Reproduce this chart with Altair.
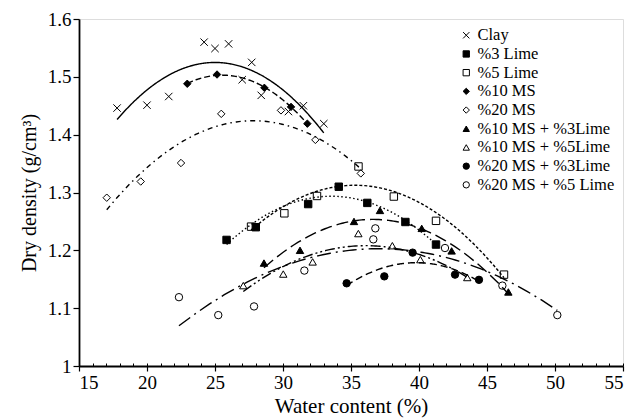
import altair as alt
import pandas as pd

series = ["Clay", "%3 Lime", "%5 Lime", "%10 MS", "%20 MS",
          "%10 MS + %3Lime", "%10 MS + %5Lime", "%20 MS + %3Lime", "%20 MS + %5 Lime"]

clay_x = [17.8, 20.0, 21.6, 24.2, 25.0, 26.0, 27.0, 27.7, 28.4, 30.4, 31.5, 33.0]
clay_y = [1.446, 1.451, 1.466, 1.560, 1.549, 1.557, 1.495, 1.525, 1.468, 1.440, 1.450, 1.419]

lime3_x = [25.85, 28.0, 31.85, 34.1, 36.2, 39.0, 41.25]
lime3_y = [1.218, 1.240, 1.280, 1.310, 1.282, 1.249, 1.210]

lime5_x = [27.65, 30.1, 32.5, 35.55, 38.15, 41.25, 46.25]
lime5_y = [1.241, 1.264, 1.294, 1.345, 1.293, 1.251, 1.158]

ms10_x = [22.96, 25.15, 28.63, 30.59, 31.79]
ms10_y = [1.488, 1.504, 1.481, 1.448, 1.419]

ms20_x = [17.04, 19.54, 22.5, 25.46, 29.85, 32.38, 35.72]
ms20_y = [1.291, 1.319, 1.351, 1.436, 1.442, 1.391, 1.333]

ms10l3_x = [28.6, 31.25, 35.22, 37.13, 40.2, 42.4, 46.57]
ms10l3_y = [1.178, 1.200, 1.250, 1.269, 1.238, 1.199, 1.128]

ms10l5_x = [27.08, 30.02, 32.18, 35.54, 38.04, 40.1, 43.55]
ms10l5_y = [1.139, 1.159, 1.180, 1.229, 1.208, 1.184, 1.153]

ms20l3_x = [34.68, 37.45, 39.53, 42.65, 44.41]
ms20l3_y = [1.143, 1.155, 1.196, 1.158, 1.149]

ms20l5_x = [22.35, 25.24, 27.87, 31.57, 36.64, 36.79, 41.91, 46.13, 50.17]
ms20l5_y = [1.119, 1.088, 1.103, 1.165, 1.219, 1.238, 1.204, 1.139, 1.088]

xs = [clay_x, lime3_x, lime5_x, ms10_x, ms20_x, ms10l3_x, ms10l5_x, ms20l3_x, ms20l5_x]
ys = [clay_y, lime3_y, lime5_y, ms10_y, ms20_y, ms10l3_y, ms10l5_y, ms20l3_y, ms20l5_y]

rows = []
for s, xv, yv in zip(series, xs, ys):
    for a, b in zip(xv, yv):
        rows.append({"series": s, "x": a, "y": b})
df = pd.DataFrame(rows)

shapes = ["M-1,-1L1,1M-1,1L1,-1", "square", "square", "diamond", "diamond",
          "triangle-up", "triangle-up", "circle", "circle"]
fills = ["transparent", "black", "transparent", "black", "transparent",
         "black", "transparent", "black", "transparent"]
strokes = ["black"] * len(series)
dashes = [[1, 0], [1.5, 2.5], [3, 2], [6, 3], [5, 4, 1.5, 4],
          [12, 5], [10, 3, 2, 3, 2, 3], [7, 4], [14, 5, 2, 5]]

FONT = "Liberation Serif"

xscale = alt.Scale(domain=[15, 55], nice=False, zero=False)
yscale = alt.Scale(domain=[1.0, 1.6], nice=False, zero=False)

xaxis = alt.Axis(orient="bottom", values=list(range(15, 56, 5)), grid=False, tickSize=5,
                 tickColor="black", domainColor="black", domainWidth=1.8, tickWidth=1.2,
                 labelFont=FONT, labelFontSize=19, labelColor="black", labelPadding=2,
                 title="Water content (%)", titleFont=FONT, titleFontSize=21,
                 titleFontWeight="normal", titleColor="black", titlePadding=3)
yaxis = alt.Axis(values=[1.0, 1.1, 1.2, 1.3, 1.4, 1.5, 1.6], grid=False, tickSize=6,
                 tickColor="black", domainColor="black", domainWidth=1.8, tickWidth=1.2,
                 labelExpr="datum.value == 1 ? '1' : format(datum.value, '.1f')",
                 labelFont=FONT, labelFontSize=19, labelColor="black", labelPadding=2,
                 title="Dry density (g/cm³)", titleFont=FONT, titleFontSize=20,
                 titleFontWeight="normal", titleColor="black", titlePadding=8)

legend = alt.Legend(title=None, orient="top-right", offset=8,
                    labelFont=FONT, labelFontSize=16.5, labelColor="black",
                    symbolSize=40, symbolStrokeColor="black", symbolStrokeWidth=1,
                    rowPadding=1.7, labelOffset=3, labelLimit=300)

base = alt.Chart(df)

line_layers = []
for s, d in zip(series, dashes):
    line_layers.append(
        base.transform_filter(alt.datum.series == s)
        .transform_regression("x", "y", method="poly", order=2)
        .mark_line(color="black", strokeWidth=1.4, strokeDash=d)
        .encode(x=alt.X("x:Q", scale=xscale, axis=None),
                y=alt.Y("y:Q", scale=yscale, axis=yaxis))
    )

points = base.mark_point(strokeWidth=1, fillOpacity=1, opacity=1, size=55).encode(
    x=alt.X("x:Q", scale=xscale, axis=xaxis),
    y=alt.Y("y:Q", scale=yscale, axis=yaxis),
    shape=alt.Shape("series:N", scale=alt.Scale(domain=series, range=shapes), sort=series, legend=legend),
    fill=alt.Fill("series:N", scale=alt.Scale(domain=series, range=fills), sort=series, legend=legend),
    stroke=alt.Stroke("series:N", scale=alt.Scale(domain=series, range=strokes), sort=series, legend=legend),
)

minor = alt.Chart(pd.DataFrame({"x": [15]})).mark_point(opacity=0).encode(
    x=alt.X("x:Q", scale=xscale,
            axis=alt.Axis(orient="bottom", values=list(range(15, 56)), offset=-3, domain=False,
                          labels=False, title=None, grid=False, tickSize=3, tickColor="black",
                          tickWidth=1)),
)

chart = alt.layer(*line_layers, points, minor).resolve_axis(x="independent").properties(
    width=544, height=347,
    autosize=alt.AutoSizeParams(type="none"),
    padding={"left": 79, "top": 19, "right": 21, "bottom": 54},
).configure_view(stroke="black", strokeWidth=1.5).configure(background="white")

chart.save("out.html", embed_options={"renderer": "svg", "actions": False})
